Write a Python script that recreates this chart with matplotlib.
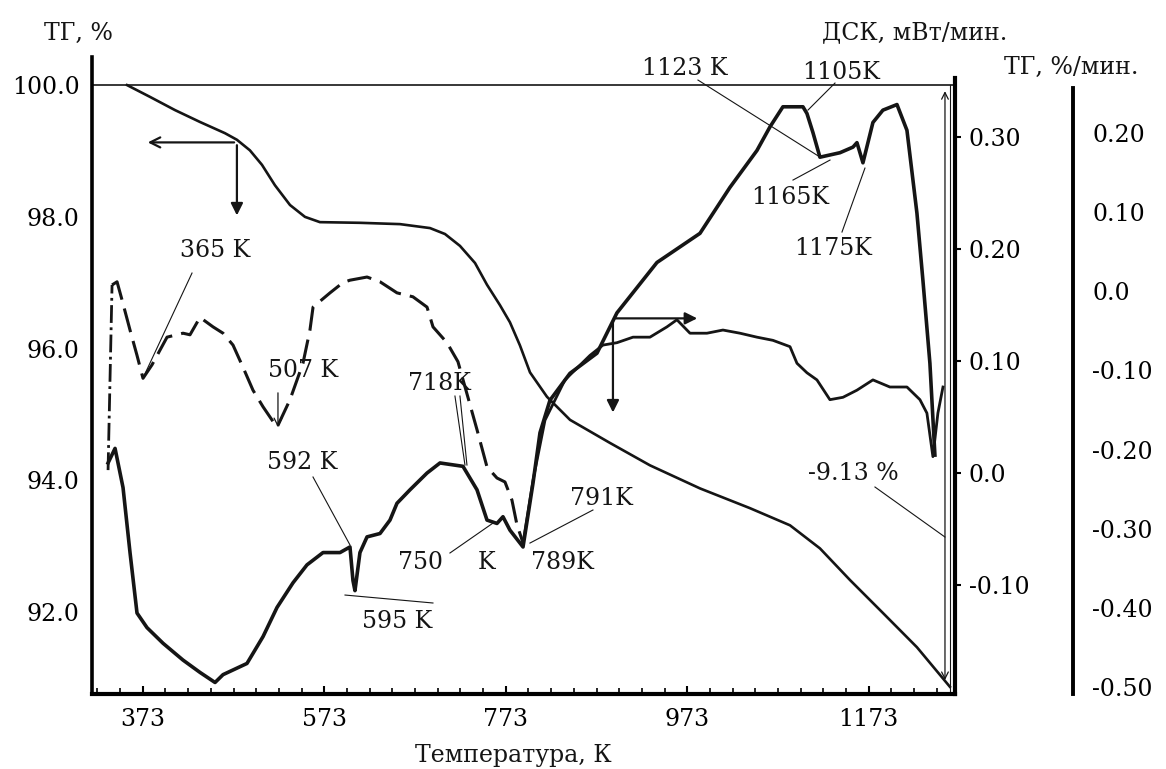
import numpy as np
import matplotlib
matplotlib.use('Agg')
import matplotlib.pyplot as plt
from matplotlib.ticker import FixedLocator

plt.rcParams['font.family'] = ['DejaVu Serif']
ink = '#151515'

# TG curve, % (left axis)
tg_t = [355.6, 381.0, 408.5, 436.0, 463.5, 476.7, 491.0, 504.3, 518.6, 535.2, 551.7, 568.2,
        612.3, 656.4, 689.5, 706.0, 722.5, 739.1, 752.3, 766.6, 777.6, 788.6, 799.7, 818.4,
        843.8, 887.8, 931.9, 987.0, 1042.1, 1086.2, 1119.2, 1152.3, 1188.6, 1226.1, 1262.4]
tg_v = [100.00, 99.82, 99.62, 99.44, 99.27, 99.17, 99.01, 98.79, 98.48, 98.18, 98.00, 97.92,
        97.91, 97.89, 97.83, 97.74, 97.56, 97.30, 96.97, 96.66, 96.40, 96.05, 95.64, 95.27,
        94.92, 94.57, 94.23, 93.88, 93.58, 93.32, 92.97, 92.49, 91.99, 91.47, 90.87]

# DSC curve, mW/min (first right axis)
dsc_t = [334.7, 342.4, 351.2, 358.9, 366.6, 377.6, 395.3, 417.3, 436.0, 452.6, 461.4, 487.8,
         505.5, 520.9, 538.5, 553.9, 571.6, 590.3, 601.3, 604.6, 606.8, 612.3, 620.1, 634.4,
         645.4, 653.1, 667.4, 686.2, 700.5, 725.8, 741.3, 752.3, 763.3, 769.9, 777.6, 792.0,
         803.0, 810.7, 821.7, 843.7, 873.5, 895.5, 939.6, 987.0, 1020.0, 1049.8, 1064.1, 1078.4,
         1100.5, 1104.9, 1111.5, 1119.2, 1141.3, 1155.6, 1160.0, 1166.6, 1177.6, 1188.6, 1204.1,
         1215.1, 1226.1, 1232.7, 1240.4, 1245.9]
dsc_v = [0.009, 0.022, -0.013, -0.071, -0.125, -0.138, -0.152, -0.167, -0.178, -0.187, -0.180, -0.170,
         -0.146, -0.120, -0.098, -0.082, -0.071, -0.071, -0.066, -0.096, -0.105, -0.071, -0.057, -0.054,
         -0.042, -0.027, -0.015, 0.000, 0.009, 0.006, -0.015, -0.042, -0.045, -0.039, -0.051, -0.066,
         -0.009, 0.036, 0.065, 0.089, 0.107, 0.143, 0.188, 0.214, 0.255, 0.288, 0.309, 0.327,
         0.327, 0.321, 0.304, 0.282, 0.286, 0.291, 0.295, 0.277, 0.313, 0.324, 0.329,
         0.306, 0.232, 0.172, 0.098, 0.016]

# DTG curve, %/min (second right axis)
dtg_t = [334.7, 339.1, 344.6, 350.1, 358.9, 366.6, 373.2, 383.1, 399.7, 417.3, 425.0, 436.0,
         450.4, 461.4, 472.4, 483.4, 494.4, 505.5, 520.9, 535.2, 549.5, 557.2, 560.6, 579.3,
         593.6, 601.3, 620.1, 634.4, 653.1, 670.7, 686.2, 692.8, 708.2, 720.3, 731.3, 741.3,
         752.3, 763.3, 772.1, 779.8, 785.3, 792.0, 803.0, 816.2, 838.2, 865.8, 880.1, 895.5,
         913.2, 931.9, 950.6, 961.6, 976.0, 994.7, 1012.3, 1031.1, 1049.8, 1067.4, 1086.2, 1093.9,
         1104.9, 1115.9, 1130.2, 1144.6, 1160.0, 1177.6, 1196.3, 1215.1, 1229.4, 1237.1, 1243.7,
         1249.2, 1254.8]
dtg_v = [-0.226, 0.008, 0.012, -0.011, -0.049, -0.081, -0.110, -0.093, -0.058, -0.053, -0.055, -0.033,
         -0.045, -0.053, -0.068, -0.096, -0.125, -0.146, -0.172, -0.137, -0.091, -0.049, -0.020, -0.002,
         0.011, 0.014, 0.018, 0.012, -0.002, -0.007, -0.020, -0.045, -0.065, -0.089, -0.134, -0.175,
         -0.222, -0.236, -0.241, -0.264, -0.295, -0.318, -0.239, -0.163, -0.112, -0.081, -0.068, -0.065,
         -0.058, -0.058, -0.045, -0.036, -0.053, -0.053, -0.049, -0.053, -0.058, -0.062, -0.070, -0.091,
         -0.103, -0.112, -0.137, -0.134, -0.125, -0.112, -0.121, -0.121, -0.137, -0.154, -0.209,
         -0.154, -0.121]

x_ticks = [373, 573, 773, 973, 1173]
tg_ticks = [92.0, 94.0, 96.0, 98.0, 100.0]
dsc_ticks = [-0.10, 0.0, 0.10, 0.20, 0.30]
dsc_labels = ['-0.10', '0.0', '0.10', '0.20', '0.30']
dtg_ticks = [-0.50, -0.40, -0.30, -0.20, -0.10, 0.0, 0.10, 0.20]
dtg_labels = ['-0.50', '-0.40', '-0.30', '-0.20', '-0.10', '0.0', '0.10', '0.20']

# peak labels (axes fraction) and leader lines
peak_text = [('365 K', 0.1425, 0.6970), ('507 K', 0.2445, 0.5086), ('592 K', 0.2433, 0.3642),
             ('595 K', 0.3534, 0.1146), ('718K', 0.4021, 0.4882), ('750', 0.3801, 0.2057),
             ('K', 0.4577, 0.2057), ('789K', 0.5446, 0.2072), ('791K', 0.5898, 0.3077),
             ('1123 K', 0.6871, 0.9827), ('1105K', 0.8679, 0.9765), ('1165K', 0.8088, 0.7802),
             ('1175K', 0.8586, 0.7002), ('-9.13 %', 0.8818, 0.3469)]
leaders = [(0.1159, 0.6609, 0.0591, 0.4961), (0.2561, 0.3407, 0.2990, 0.2339),
           (0.2932, 0.1554, 0.3951, 0.1429), (0.4206, 0.4678, 0.4322, 0.3595),
           (0.4264, 0.4678, 0.4345, 0.3595), (0.4148, 0.2214, 0.4647, 0.2684),
           (0.5805, 0.2889, 0.5075, 0.2370), (0.7022, 0.9639, 0.8436, 0.8430),
           (0.8610, 0.9592, 0.8297, 0.9168), (0.8123, 0.8069, 0.8552, 0.8383),
           (0.8691, 0.7253, 0.8957, 0.8257), (0.9073, 0.3250, 0.9884, 0.2465)]

fig = plt.figure(figsize=(11.66, 7.69), dpi=100)
ax = fig.add_axes([0.0789, 0.0975, 0.7401, 0.8283])
ax2 = ax.twinx()
ax3 = ax.twinx()

# TG
ax.plot(tg_t, tg_v, color=ink, lw=1.9)
ax.axhline(100.0, color=ink, lw=1.2)
ax.set_xlim(317.0, 1268.0)
ax.set_ylim(90.76, 100.425)
ax.set_yticks(tg_ticks, ['%.1f' % v for v in tg_ticks])
ax.set_xticks(x_ticks, [str(v) for v in x_ticks])
ax.xaxis.set_minor_locator(FixedLocator(np.arange(323, 1260, 25)))
ax.tick_params(axis='x', which='major', direction='in', length=6, width=1.5, pad=10, labelsize=17)
ax.tick_params(axis='x', which='minor', direction='in', length=4, width=1.2)
ax.tick_params(axis='y', length=0, pad=9, labelsize=17)
ax.spines['top'].set_visible(False)
ax.spines['right'].set_visible(False)
ax.spines['left'].set_linewidth(2.6)
ax.spines['bottom'].set_linewidth(3.0)

# DSC
ax2.plot(dsc_t, dsc_v, color=ink, lw=2.6)
ax2.set_ylim(-0.1973, 0.3714)
ax2.set_yticks(dsc_ticks, dsc_labels)
ax2.tick_params(axis='y', direction='out', length=4, width=1.5, pad=6, labelsize=17)
for s in ['top', 'left', 'bottom']:
    ax2.spines[s].set_visible(False)
ax2.spines['right'].set_linewidth(3.0)
ax2.spines['right'].set_bounds(-0.1973, 0.3527)

# DTG
ax3.plot(dtg_t[:2], dtg_v[:2], color=ink, lw=2.0, linestyle='-.')
ax3.plot(dtg_t[1:42], dtg_v[1:42], color=ink, lw=2.2, dashes=(8, 3))
ax3.plot(dtg_t[41:], dtg_v[41:], color=ink, lw=2.0)
ax3.set_ylim(-0.509, 0.296)
ax3.set_yticks(dtg_ticks, dtg_labels)
ax3.tick_params(axis='y', length=0, pad=14, labelsize=17)
for s in ['top', 'left', 'bottom']:
    ax3.spines[s].set_visible(False)
ax3.spines['right'].set_position(('axes', 1.1368))
ax3.spines['right'].set_linewidth(2.8)
ax3.spines['right'].set_bounds(-0.509, 0.257)

# arrows pointing from curves to the axes
arr = dict(color=ink, lw=1.6, mutation_scale=18)
ax.annotate('', xy=(375.4, 99.13), xytext=(476.7, 99.13), arrowprops=dict(arrowstyle='->', **arr))
ax.annotate('', xy=(476.7, 97.98), xytext=(476.7, 99.13), arrowprops=dict(arrowstyle='-|>', **arr))
ax.annotate('', xy=(987.0, 96.46), xytext=(891.1, 96.46), arrowprops=dict(arrowstyle='-|>', **arr))
ax.annotate('', xy=(891.1, 94.99), xytext=(891.1, 96.46), arrowprops=dict(arrowstyle='-|>', **arr))
# mass loss span
ax.annotate('', xy=(1257.0, 90.93), xytext=(1257.0, 99.95),
            arrowprops=dict(arrowstyle='<->', color=ink, lw=0.9, mutation_scale=12))
ax.axvline(1262.5, ymin=0, ymax=0.956, color=ink, lw=0.8)

for s, fx, fy in peak_text:
    ax.text(fx, fy, s, transform=ax.transAxes, ha='center', va='center', fontsize=17, color=ink)
for x1, y1, x2, y2 in leaders:
    ax.plot([x1, x2], [y1, y2], transform=ax.transAxes, color=ink, lw=0.8, clip_on=False)
ax.annotate('', xy=(0.2155, 0.4144), xytext=(0.2155, 0.4772), xycoords='axes fraction',
            arrowprops=dict(arrowstyle='->', color=ink, lw=0.9, mutation_scale=14))

fig.text(0.0669, 0.9571, 'ТГ, %', ha='center', va='center', fontsize=17, color=ink)
fig.text(0.7847, 0.9571, 'ДСК, мВт/мин.', ha='center', va='center', fontsize=17, color=ink)
fig.text(0.9185, 0.9129, 'ТГ, %/мин.', ha='center', va='center', fontsize=17, color=ink)
fig.text(0.4400, 0.0182, 'Температура, К', ha='center', va='center', fontsize=17, color=ink)

fig.savefig('out.png', dpi=100)
